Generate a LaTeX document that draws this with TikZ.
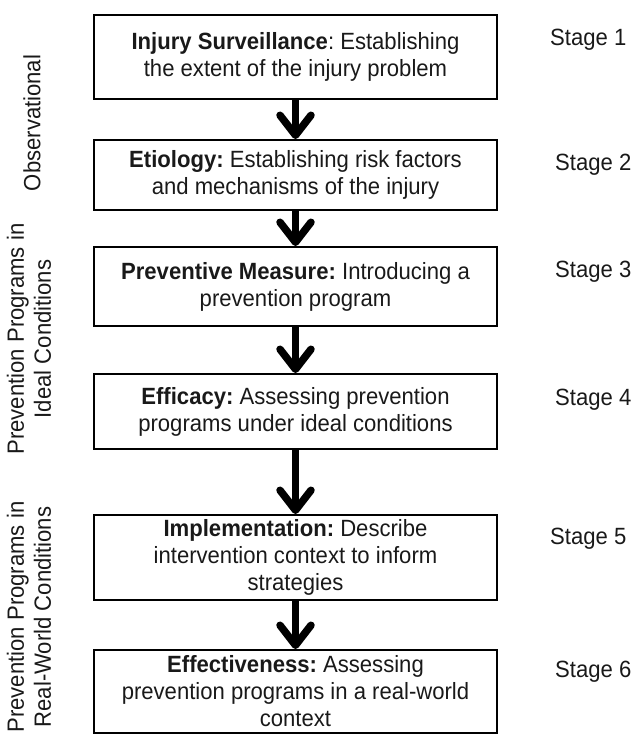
\documentclass[tikz,border=0pt]{standalone}
\usepackage{fontspec}
\setmainfont{Liberation Sans}[FakeStretch=0.94]
\usetikzlibrary{arrows.meta}
\frenchspacing
\begin{document}
\begin{tikzpicture}[x=1pt,y=-1pt,
  txt/.style={font=\fontsize{23.5}{27}\selectfont, inner sep=0pt, text=black!90},
  box/.style={txt, draw=black, line width=2pt, minimum width=403pt, align=center},
  stagelbl/.style={txt, anchor=base west},
  sidelbl/.style={txt, rotate=90, align=center},
  arr/.style={line width=7.5pt, -{Straight Barb[length=20pt,width=31pt,round]}}]
\useasboundingbox (0,0) rectangle (636,742);
\node[box, minimum height=84pt] (b1) at (295.5,57) {\textbf{Injury Surveillance}: Establishing\\the extent of the injury problem};
\node[box, minimum height=70pt] (b2) at (295.5,175) {\textbf{Etiology:} Establishing risk factors\\and mechanisms of the injury};
\node[box, minimum height=79pt] (b3) at (295.5,286.5) {\textbf{Preventive Measure:} Introducing a\\prevention program};
\node[box, minimum height=75pt] (b4) at (295.5,411.5) {\textbf{Efficacy:} Assessing prevention\\programs under ideal conditions};
\node[box, minimum height=85pt] (b5) at (295.5,557.5) {\textbf{Implementation:} Describe\\intervention context to inform\\strategies};
\node[box, minimum height=83pt] (b6) at (295.5,691.5) {\textbf{Effectiveness:} Assessing\\prevention programs in a real-world\\context};
\draw[arr] (b1.south) -- (b2.north);
\draw[arr] (b2.south) -- (b3.north);
\draw[arr] (b3.south) -- (b4.north);
\draw[arr] (b4.south) -- (b5.north);
\draw[arr] (b5.south) -- (b6.north);
\node[stagelbl] (s1) at (550,45) {Stage 1};
\node[stagelbl] (s2) at (555,170) {Stage 2};
\node[stagelbl] (s3) at (555,277) {Stage 3};
\node[stagelbl] (s4) at (555,405) {Stage 4};
\node[stagelbl] (s5) at (550,544) {Stage 5};
\node[stagelbl] (s6) at (555,677) {Stage 6};
\node[sidelbl] (l1) at (32,123) {Observational};
\node[sidelbl] (l2) at (29,339) {Prevention Programs in\\Ideal Conditions};
\node[sidelbl] (l3) at (29,617) {Prevention Programs in\\Real-World Conditions};
\end{tikzpicture}
\end{document}
